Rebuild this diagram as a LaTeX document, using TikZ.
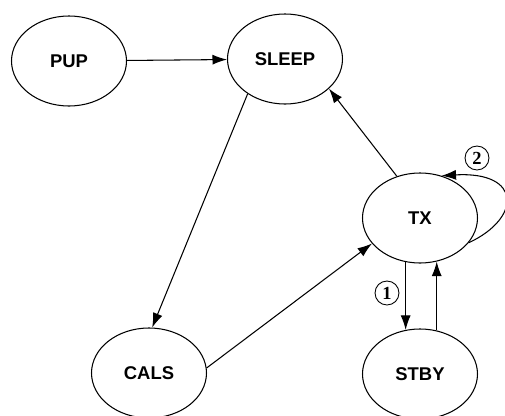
\documentclass[tikz,border=0pt]{standalone}
\usepackage{fontspec}
\setsansfont{Liberation Sans}
\setmainfont{Liberation Serif}
\usetikzlibrary{arrows.meta,shapes.geometric}
\begin{document}
\begin{tikzpicture}
[x=0.02cm,y=-0.02cm,line width=0.6pt,
 state/.style={draw,ellipse,minimum width=2.3cm,minimum height=1.8cm,inner sep=0pt,
   font=\sffamily\bfseries\fontsize{10.5}{12}\selectfont},
 arr/.style={-{Latex[length=2.9mm,width=2mm]}},
 num/.style={draw,circle,inner sep=0pt,minimum size=0.48cm,line width=0.5pt,
   font=\rmfamily\bfseries\fontsize{10.5}{12}\selectfont}]
\useasboundingbox (0,0) rectangle (505,416);

\node[state] (PUP) at (69,61) {PUP};
\node[state] (SLEEP) at (285,59) {SLEEP};
\node[state] (TX) at (420,218) {TX};
\node[state] (CALS) at (149,373) {CALS};
\node[state] (STBY) at (420,374) {STBY};

\draw[arr] (PUP) -- (SLEEP);
\draw[arr] (SLEEP.-137) -- (CALS.86);
\draw[arr] (TX.119) -- (SLEEP.-34);
\draw[arr] (CALS.5) -- (TX.-152);
\draw[arr] (TX.-108) -- (STBY.108);
\draw[arr] (STBY.69) -- (TX.-69);
\draw[arr] (TX.-27) .. controls (522,218) and (522,171) .. (TX.63);

\node[num] (one) at (387,293) {1};
\node[num] (two) at (477,158) {2};
\end{tikzpicture}
\end{document}
